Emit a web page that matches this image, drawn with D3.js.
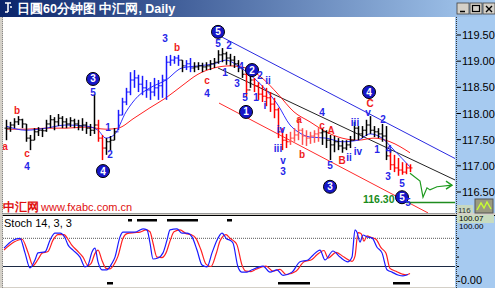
<!DOCTYPE html>
<html>
<head>
<meta charset="utf-8">
<script src="https://cdn.jsdelivr.net/npm/d3@7/dist/d3.min.js"></script>
<style>
  body { margin: 0; background: #fff; }
  svg { display: block; font-family: "Liberation Sans", Arial, sans-serif; }
</style>
</head>
<body>
<svg id="chart" width="495" height="288"></svg>
<script>
// ---- price bars (one per hour) ----
const highs = [117.88,117.84,117.91,117.95,117.90,117.80,117.59,117.72,117.74,117.72,
  117.88,117.97,117.93,117.99,117.95,117.91,117.93,117.90,117.88,117.91,
  117.84,117.80,118.37,117.88,117.59,117.53,117.57,117.72,118.07,118.30,
  118.49,118.79,118.83,118.74,118.72,118.64,118.60,118.68,118.64,118.74,
  119.10,119.12,119.10,119.12,119.02,119.02,119.06,118.98,118.98,118.97,
  118.98,119.02,119.06,119.21,119.25,119.18,119.14,119.10,119.02,118.87,
  118.79,118.72,118.68,118.60,118.54,118.49,118.41,118.30,118.11,117.72,
  117.61,117.65,117.72,117.91,117.72,117.68,117.65,117.68,117.72,117.72,
  117.68,117.59,117.57,117.53,117.49,117.49,117.57,117.84,117.76,117.76,
  117.88,117.95,117.76,117.72,117.80,117.76,117.30,117.21,117.15,117.07,
  117.05,117.03];
const lows = [117.49,117.65,117.72,117.78,117.72,117.46,117.30,117.49,117.57,117.55,
  117.65,117.72,117.68,117.76,117.72,117.72,117.74,117.72,117.68,117.67,
  117.61,117.57,117.61,117.46,117.11,117.21,117.30,117.49,117.68,117.97,
  118.16,118.35,118.49,118.41,118.35,118.30,118.26,118.33,118.26,118.30,
  118.26,118.91,118.95,118.91,118.79,118.83,118.79,118.79,118.83,118.79,
  118.83,118.83,118.87,118.95,118.98,118.93,118.91,118.87,118.79,118.68,
  118.32,118.49,118.41,118.26,118.22,118.14,118.03,117.91,117.53,117.30,
  117.34,117.40,117.46,117.49,117.40,117.38,117.42,117.44,117.46,117.40,
  117.34,117.11,117.26,117.30,117.25,117.30,117.34,117.49,117.49,117.53,
  117.57,117.61,117.55,117.53,117.46,117.11,116.92,116.88,116.81,116.83,
  116.84,116.88];
const closes = [117.72,117.78,117.84,117.88,117.80,117.53,117.49,117.65,117.68,117.67,
  117.80,117.88,117.84,117.91,117.84,117.80,117.86,117.80,117.76,117.78,
  117.72,117.68,117.78,117.53,117.34,117.46,117.49,117.65,117.97,118.22,
  118.41,118.64,118.68,118.56,118.49,118.45,118.41,118.49,118.53,118.64,
  118.98,119.02,119.06,119.02,118.91,118.95,118.87,118.89,118.91,118.89,
  118.91,118.95,118.98,119.12,119.14,119.06,119.02,118.95,118.87,118.75,
  118.45,118.64,118.53,118.37,118.33,118.30,118.18,118.07,117.65,117.49,
  117.46,117.53,117.59,117.68,117.57,117.53,117.57,117.61,117.63,117.65,
  117.49,117.40,117.46,117.38,117.34,117.40,117.49,117.72,117.61,117.68,
  117.78,117.68,117.65,117.61,117.57,117.19,117.02,116.96,116.92,116.88,
  116.96,116.96];
// bar colour class: k black, b blue, r red, p light red
const barColors = 'kkkkkkkkkkkkkkkkkkkkkkkrrkkkbbbbbbbbbbbbbbbbkbbkkkkkkkkkkkkkrkrrrrrrrrrppppppppkkkkkkkkkkkkkkkkkrrrrrr';

// ---- moving averages: [bar index, price] ----
const maSlow = [[0,117.70],[5,117.70],[10,117.72],[15,117.72],[20,117.74],[25,117.70],[28,117.72],
  [32,117.91],[36,118.11],[40,118.30],[44,118.53],[48,118.75],[52,118.87],[56,118.91],[60,118.87],
  [64,118.68],[68,118.37],[72,118.03],[76,117.84],[80,117.65],[84,117.53],[88,117.49],[92,117.53],
  [96,117.46],[101,117.25]];
const maFast = [[0,117.76],[5,117.68],[10,117.72],[15,117.78],[20,117.76],[23,117.68],[25,117.53],
  [27,117.59],[30,118.03],[33,118.33],[36,118.49],[40,118.64],[44,118.87],[48,118.91],[52,118.95],
  [55,119.02],[58,118.91],[61,118.74],[65,118.45],[68,118.16],[71,117.78],[73,117.65],[76,117.55],
  [80,117.53],[84,117.46],[88,117.49],[91,117.61],[94,117.53],[97,117.30],[101,116.98]];

// ---- hand-drawn trend lines: [[i0,p0],[i1,p1]] ----
const channelTop = [[54,119.46],[112.25,117.14]];
const channelLow = [[53.25,118.20],[105.5,116.10]];
const trendMid = [[53,118.87],[112.25,116.73]];

// ---- projection ----
const projection = [[101,116.86],[103.5,116.71],[104.25,116.40],[105.25,116.58],[106,116.54],[107.75,116.60],[111.5,116.63]];
const targetPrice = 116.30;
const targetFrom = 100;

// ---- wave labels: [text, bar index, price, kind] (c = circled) ----
const waves = [
  ['a',-0.25,117.36,'r'],['b',2.75,118.05,'r'],['c',5.25,117.23,'r'],['4',5.25,116.99,'b'],
  ['3',21.75,118.66,'c'],['5',21.75,118.41,'b'],['1',25.5,117.74,'b'],['2',26,117.21,'b'],
  ['4',24.25,116.90,'c'],['3',39.75,119.44,'b'],['b',42.75,119.27,'r'],['c',50.25,118.63,'r'],
  ['4',50.25,118.39,'b'],['5',53,119.56,'c'],['5',53,119.33,'b'],['2',55.75,119.29,'b'],
  ['1',54.75,118.79,'b'],['3',57.75,118.58,'b'],['4',58.75,118.89,'b'],['2',61.5,118.83,'c'],
  ['2',63.5,118.72,'b'],['ii',65.5,118.64,'b'],['5',59.75,118.30,'b'],['1',62.5,118.30,'b'],
  ['i',64.75,118.16,'b'],['1',60,118.03,'c'],['iv',68.75,117.70,'b'],['iii',68,117.34,'b'],
  ['v',69.25,117.11,'b'],['3',69.25,116.90,'b'],['a',73.25,117.88,'r'],['b',74,117.21,'r'],
  ['4',79,118.01,'b'],['c',79,117.78,'r'],['A',81.25,117.67,'r'],['5',81,117.00,'b'],
  ['B',84,117.11,'r'],['ii',85.75,117.15,'b'],['iii',87.25,117.82,'b'],['iv',88,117.28,'b'],
  ['v',90.5,118.01,'b'],['C',91,118.20,'r'],['4',90.75,118.41,'c'],['2',94.25,117.88,'b'],
  ['1',92.75,117.32,'b'],['4',95.75,117.32,'b'],['3',95.5,116.79,'b'],['5',99,116.67,'b'],
  ['5',99,116.40,'c'],['3',81,116.60,'c'],['5',100.5,116.29,'b'],['116.30',93.2,116.35,'g']
];

// ---- price axis ticks ----
const priceTicks = [119.5,119.0,118.5,118.0,117.5,117.0,116.5];

// ---- stochastic 14,3,3: [bar index, value] ----
const stochK = [[-0.5,59],[1.75,76],[3.5,80],[4.75,49],[6,17],[7.25,34],[8,49],[9.75,51],[11,76],
  [12.25,91],[13.5,91],[14.75,81],[15.5,66],[16.75,55],[18.5,40],[19.75,19],[20.5,23],[21.5,51],
  [22.25,59],[23,30],[24,13],[25.25,13],[26.5,27],[27.25,40],[28.5,83],[29.25,93],[31,93],[32.25,93],
  [34.25,100],[35.25,98],[36,70],[36.75,36],[38,38],[39.25,49],[40.25,76],[41,98],[42.75,100],[44,91],
  [45.25,91],[46.5,83],[47.75,55],[49,23],[50.25,19],[51.5,49],[52.75,76],[54,91],[55.25,78],[56,76],
  [56.75,70],[58,19],[59,8],[60.25,8],[61.5,13],[64.25,21],[66,8],[67.75,13],[69.25,1],[71.5,8],
  [73.5,30],[75.5,34],[76.75,44],[78.5,55],[79.75,34],[81.75,53],[83.5,40],[85.5,30],[86.5,40],
  [87.25,98],[87.75,93],[88.5,72],[89.25,87],[90.25,83],[91.5,81],[92.75,61],[94,49],[95.25,13],
  [96.5,8],[98,2],[99.25,0],[100.5,3]];
const stochD = [[-0.5,55],[2,72],[4,78],[5.5,50],[6.75,22],[8,35],[9,48],[10.5,52],[11.75,76],[13,88],
  [14.5,88],[15.5,78],[16.5,65],[17.75,54],[19.25,40],[20.5,22],[21.25,26],[22.25,48],[23,55],[24,33],
  [25,16],[26,15],[27.25,28],[28,42],[29.25,80],[30.25,90],[32,92],[33.5,93],[35,98],[36,94],[36.75,70],
  [37.75,40],[39,39],[40,49],[41,74],[42,94],[43.5,98],[45,90],[46.25,88],[47.5,80],[48.75,55],[50,25],
  [51.25,20],[52.5,46],[53.5,74],[55,88],[56,80],[57,74],[57.75,66],[59,23],[60,10],[61.25,9],[62.5,14],
  [65,21],[66.75,10],[68.5,14],[70,3],[72.5,10],[74.5,30],[76.5,35],[77.75,45],[79.5,54],[80.5,38],
  [82.5,50],[84.5,40],[86.5,31],[87.25,42],[88,92],[88.75,90],[89.5,74],[90.25,85],[91.25,82],[92.5,78],
  [93.75,60],[95,48],[96,16],[97.5,10],[99,4],[100,2],[101,5]];
const stochLevels = [80, 20];
// marker strips (bar index ranges) above and below the stochastic
const stochTopMarks = [[30.5,31.5],[32.75,37.75],[40.25,48],[55.25,56.5]];
const stochBottomMarks = [[25.25,26.75],[68,76],[96.75,101]];

// ================= drawing =================
const svg = d3.select('#chart');
const W = 495, H = 288;
const plot = { left: 3, right: 455, top: 17, bottom: 213 };
const sub = { top: 216, bottom: 287 };

const x = d3.scaleLinear().domain([0, 112.25]).range([6, 455]);
const y = d3.scaleLinear().domain([116.5, 119.5]).range([192, 35]);
const ys = d3.scaleLinear().domain([20, 80]).range([266.5, 238.3]);

const colorOf = { k: '#000000', b: '#1a1aff', r: '#ff0000', p: '#ff5050' };
const waveColor = { b: '#2626e8', r: '#f01c1c', g: '#1a8c1a' };

const defs = svg.append('defs');
const grad = defs.append('linearGradient').attr('id', 'title');
grad.append('stop').attr('offset', '0%').attr('stop-color', '#0a246a');
grad.append('stop').attr('offset', '100%').attr('stop-color', '#a6caf0');
defs.append('clipPath').attr('id', 'clipMain').append('rect')
  .attr('x', plot.left).attr('y', plot.top).attr('width', plot.right - plot.left).attr('height', plot.bottom - plot.top);
defs.append('clipPath').attr('id', 'clipSub').append('rect')
  .attr('x', plot.left).attr('y', sub.top).attr('width', plot.right - plot.left).attr('height', sub.bottom - sub.top);

// window frame
svg.append('rect').attr('width', W).attr('height', H).attr('fill', '#d4d0c8');
svg.append('rect').attr('x', 0).attr('y', 0).attr('width', W).attr('height', 17).attr('fill', 'url(#title)');

// title icon + text
svg.append('path').attr('d', 'M5,3 h6 M8,3 v9 M5,12 h3 M10,7 h2').attr('stroke', '#fff').attr('stroke-width', 1.6).attr('fill', 'none');
svg.append('text').attr('x', 17).attr('y', 13).attr('fill', '#fff')
  .style('font-size', '12.5px').style('font-weight', 'bold')
  .text('日圓60分钟图 中汇网, Daily');

// window buttons
const btns = [457, 470, 483];
btns.forEach(bx => {
  svg.append('rect').attr('x', bx).attr('y', 3).attr('width', 12).attr('height', 11)
    .attr('fill', '#d4d0c8').attr('stroke', '#404040').attr('stroke-width', 0.8);
});
svg.append('path').attr('d', 'M460,11.5 h5').attr('stroke', '#000').attr('stroke-width', 1.5);
svg.append('rect').attr('x', 472.5).attr('y', 5.5).attr('width', 7).attr('height', 6).attr('fill', 'none').attr('stroke', '#000').attr('stroke-width', 1.2);
svg.append('path').attr('d', 'M486,6 l6,6 M492,6 l-6,6').attr('stroke', '#000').attr('stroke-width', 1.4);

// panels
svg.append('rect').attr('x', plot.left).attr('y', plot.top).attr('width', plot.right - plot.left)
  .attr('height', plot.bottom - plot.top).attr('fill', '#fff');
svg.append('rect').attr('x', plot.left).attr('y', sub.top).attr('width', plot.right - plot.left)
  .attr('height', sub.bottom - sub.top).attr('fill', '#fff');
svg.append('rect').attr('x', plot.right).attr('y', plot.top).attr('width', W - plot.right)
  .attr('height', plot.bottom - plot.top).attr('fill', '#a6caf0');
svg.append('rect').attr('x', plot.right).attr('y', sub.top - 1).attr('width', W - plot.right)
  .attr('height', H - sub.top + 1).attr('fill', '#a6caf0');
svg.append('line').attr('x1', plot.right + 1.5).attr('x2', plot.right + 1.5).attr('y1', plot.top).attr('y2', H)
  .attr('stroke', '#333').attr('stroke-dasharray', '1,1');
svg.append('line').attr('x1', 2.5).attr('x2', 2.5).attr('y1', plot.top).attr('y2', H)
  .attr('stroke', '#888').attr('stroke-dasharray', '1,1');
svg.append('line').attr('x1', plot.left).attr('x2', W).attr('y1', sub.top - 0.5).attr('y2', sub.top - 0.5)
  .attr('stroke', '#000');
svg.append('line').attr('x1', plot.left).attr('x2', plot.right).attr('y1', sub.top - 2.5).attr('y2', sub.top - 2.5)
  .attr('stroke', '#999');

// ---- main chart ----
const main = svg.append('g').attr('clip-path', 'url(#clipMain)');

const seg = (pts) => d3.line().x(d => x(d[0])).y(d => y(d[1]))(pts);

main.append('path').attr('d', seg(channelTop)).attr('stroke', '#2a2ae0').attr('fill', 'none');
main.append('path').attr('d', seg(channelLow)).attr('stroke', '#ff2a2a').attr('fill', 'none');
main.append('path').attr('d', seg(trendMid)).attr('stroke', '#222').attr('fill', 'none');

const smooth = d3.line().x(d => x(d[0])).y(d => y(d[1])).curve(d3.curveMonotoneX);
main.append('path').attr('d', smooth(maSlow)).attr('stroke', '#ff2020').attr('fill', 'none').attr('stroke-width', 1);
main.append('path').attr('d', smooth(maFast)).attr('stroke', '#3030ff').attr('fill', 'none').attr('stroke-width', 1);

const bars = main.append('g');
highs.forEach((h, i) => {
  const c = colorOf[barColors[i]];
  const bx = Math.round(x(i)) + 0.5;
  const prev = i ? closes[i - 1] : closes[i];
  bars.append('line').attr('x1', bx).attr('x2', bx).attr('y1', y(h)).attr('y2', y(lows[i]))
    .attr('stroke', c).attr('stroke-width', 1.5);
  bars.append('line').attr('x1', bx - 2).attr('x2', bx).attr('y1', y(prev)).attr('y2', y(prev)).attr('stroke', c);
  bars.append('line').attr('x1', bx).attr('x2', bx + 2).attr('y1', y(closes[i])).attr('y2', y(closes[i])).attr('stroke', c);
});

// projection
main.append('path').attr('d', seg(projection)).attr('stroke', '#1f9a1f').attr('fill', 'none').attr('stroke-width', 1.2);
const tip = projection[projection.length - 1];
main.append('path')
  .attr('d', `M${x(tip[0]) - 6},${y(tip[1]) - 4} L${x(tip[0])},${y(tip[1])} L${x(tip[0]) - 6},${y(tip[1]) + 4}`)
  .attr('stroke', '#1f9a1f').attr('fill', 'none').attr('stroke-width', 1.4);
main.append('line').attr('x1', x(targetFrom)).attr('x2', plot.right).attr('y1', y(targetPrice)).attr('y2', y(targetPrice))
  .attr('stroke', '#1f8c1f').attr('stroke-width', 1.5);

// wave labels
const lab = main.append('g').style('font-weight', 'bold');
waves.forEach(([t, i, p, kind]) => {
  const cx = x(i), cy = y(p);
  if (kind === 'c') {
    lab.append('circle').attr('cx', cx).attr('cy', cy).attr('r', 6.5).attr('fill', '#1616c8').attr('stroke', '#000').attr('stroke-width', 1);
    lab.append('text').attr('x', cx).attr('y', cy + 3.5).attr('text-anchor', 'middle').attr('fill', '#fff')
      .style('font-size', '10px').text(t);
  } else {
    lab.append('text').attr('x', cx).attr('y', cy + 3.5).attr('text-anchor', 'middle').attr('fill', waveColor[kind])
      .style('font-size', kind === 'g' ? '10.5px' : '10px').text(t);
  }
});

// watermark
svg.append('text').attr('x', 3).attr('y', 211).attr('fill', '#e01010').style('font-size', '12px').style('font-weight', 'bold')
  .text('中汇网');
svg.append('text').attr('x', 41).attr('y', 211).attr('fill', '#e01010').style('font-size', '11px')
  .text('www.fxabc.com.cn');

// price axis
const ax = svg.append('g').style('font-size', '11px');
priceTicks.forEach(p => {
  ax.append('line').attr('x1', plot.right + 2).attr('x2', plot.right + 6).attr('y1', y(p)).attr('y2', y(p)).attr('stroke', '#000');
  ax.append('text').attr('x', plot.right + 7).attr('y', y(p) + 4).text(p.toFixed(2));
});
// last price box and toolbar icon
svg.append('rect').attr('x', 457).attr('y', 205).attr('width', 16).attr('height', 8).attr('fill', '#c8d8c0');
svg.append('text').attr('x', 458).attr('y', 212.5).style('font-size', '8px').attr('fill', '#333').text('116');
svg.append('rect').attr('x', 475).attr('y', 199).attr('width', 18).attr('height', 14).attr('fill', '#9a9a80').attr('stroke', '#555');
svg.append('path').attr('d', 'M477,210 l4,-7 l3,5 l3,-6 l4,7').attr('stroke', '#c8ff30').attr('fill', 'none').attr('stroke-width', 1.4);

// ---- stochastic panel ----
const st = svg.append('g').attr('clip-path', 'url(#clipSub)');
st.append('line').attr('x1', plot.left).attr('x2', plot.right).attr('y1', ys(stochLevels[0])).attr('y2', ys(stochLevels[0]))
  .attr('stroke', '#777').attr('stroke-dasharray', '1,1').attr('stroke-width', 1.2);
st.append('line').attr('x1', plot.left).attr('x2', plot.right).attr('y1', ys(stochLevels[1])).attr('y2', ys(stochLevels[1]))
  .attr('stroke', '#1c2a44');
const sline = d3.line().x(d => x(d[0])).y(d => ys(d[1])).curve(d3.curveMonotoneX);
st.append('path').attr('d', sline(stochD)).attr('stroke', '#ff2020').attr('fill', 'none').attr('stroke-width', 1.2);
st.append('path').attr('d', sline(stochK)).attr('stroke', '#1a1aff').attr('fill', 'none').attr('stroke-width', 1.2);
stochTopMarks.forEach(([a, b]) => {
  st.append('rect').attr('x', x(a)).attr('y', 219).attr('width', x(b) - x(a)).attr('height', 2.5).attr('fill', '#000');
});
stochBottomMarks.forEach(([a, b]) => {
  st.append('rect').attr('x', x(a)).attr('y', 282).attr('width', x(b) - x(a)).attr('height', 2.5).attr('fill', '#000');
});
svg.append('text').attr('x', 4).attr('y', 227).style('font-size', '11px').attr('fill', '#000').text('Stoch 14, 3, 3');

// stochastic axis
svg.append('rect').attr('x', 457).attr('y', 215).attr('width', 37).attr('height', 8).attr('fill', '#c8dcc0');
svg.append('text').attr('x', 459).attr('y', 221).style('font-size', '8px').text('100.07');
svg.append('text').attr('x', 459).attr('y', 228.5).style('font-size', '8px').text('100.00');
svg.append('text').attr('x', 457).attr('y', 284).style('font-size', '11px').text('-0.00');
[0, 20, 40, 60, 80].forEach(v => {
  svg.append('line').attr('x1', plot.right + 2).attr('x2', plot.right + 4).attr('y1', ys(v)).attr('y2', ys(v)).attr('stroke', '#000');
});
</script>
</body>
</html>
